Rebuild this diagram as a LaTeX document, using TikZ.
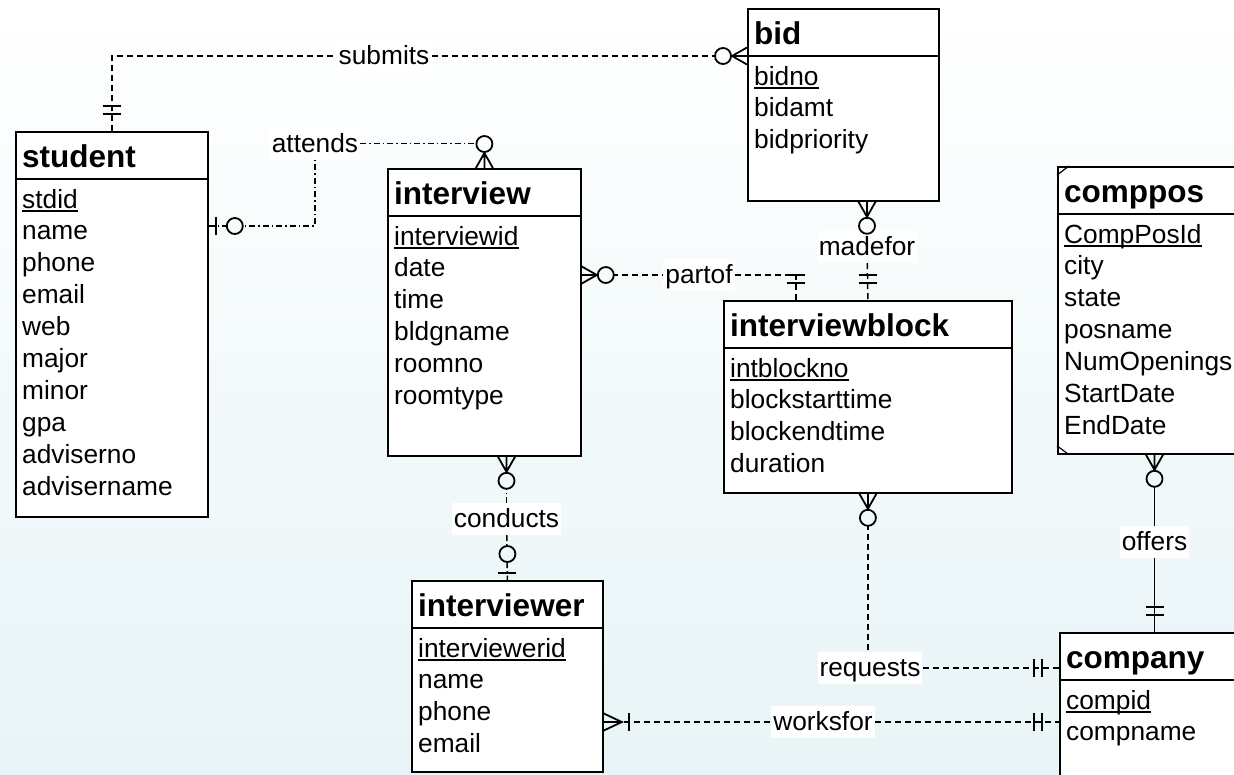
\documentclass[tikz,border=0pt]{standalone}
\usepackage{fontspec}
\setmainfont{Liberation Sans}

\definecolor{bgB}{RGB}{232,244,247}
\def\cfill{white}

\tikzset{
  entbox/.style={draw, line width=1.8pt, fill=white, anchor=north west, inner sep=0pt},
  entsep/.style={line width=1.8pt},
  enttitle/.style={anchor=base west, inner sep=0pt, font=\fontsize{31.5}{31.5}\selectfont\bfseries},
  entattr/.style={anchor=base west, inner sep=0pt, font=\fontsize{26.3}{26.3}\selectfont},
  pkline/.style={line width=1.2pt},
  rlabel/.style={fill=white, inner xsep=2pt, inner ysep=2.5pt, text height=22pt, text depth=5pt,
                 font=\fontsize{26.3}{26.3}\selectfont},
  conn/.style={line width=1.5pt, dash pattern=on 6pt off 4pt},
  conndd/.style={line width=1.5pt, dash pattern=on 6pt off 3pt on 1.5pt off 3pt},
  connsolid/.style={line width=1.5pt},
  cardmark/.style={line width=1.8pt, solid},
  circfill/.code={\def\cfill{#1}},
  % cardinality symbols: origin on the entity border, local +x points away from the entity
  pics/zeromany/.style={code={
    \draw[cardmark] (0,-8.5) -- (15,0) -- (0,8.5) (0,0) -- (15,0);
    \draw[cardmark, fill=\cfill] (24,0) circle[radius=8pt];
  }},
  pics/zeroone/.style={code={
    \draw[cardmark] (7,-9) -- (7,9);
    \draw[cardmark, fill=\cfill] (26,0) circle[radius=8pt];
  }},
  pics/onemany/.style={code={
    \draw[cardmark] (0,-8.5) -- (18,0) -- (0,8.5) (0,0) -- (18,0);
    \draw[cardmark] (25,-9) -- (25,9);
  }},
  pics/exactlyone/.style={code={
    \draw[cardmark] (17,-9) -- (17,9) (25,-9) -- (25,9);
  }},
}

% entity: name, left, top, width, height, title, attributes (first one is the key)
\newcommand\erentity[7]{%
  \node[entbox, minimum width=#4pt, minimum height=#5pt] (#1) at (#2,#3) {};
  \draw[entsep] (#2,#3+48) -- (#2+#4,#3+48);
  \node[enttitle] (#1-title) at (#2+7,#3+36) {#6};
  \foreach \fld [count=\i from 0] in {#7}{%
    \node[entattr] (#1-f\i) at (#2+7,#3+77+31.9*\i) {\fld};
  }
  \draw[pkline] ([yshift=-3pt]#1-f0.base west) -- ([yshift=-3pt]#1-f0.base east);
}

\begin{document}
\begin{tikzpicture}[x=1pt,y=-1pt]
  \useasboundingbox (0,0) rectangle (1234,774);
  \clip (0,0) rectangle (1234,774);
  \shade[top color=white, bottom color=bgB] (0,0) rectangle (1234,774);

  % entities
  \erentity{student}{15}{131}{192}{385}{student}{stdid,name,phone,email,web,major,minor,gpa,adviserno,advisername}
  \erentity{interview}{387}{168}{193}{287}{interview}{interviewid,date,time,bldgname,roomno,roomtype}
  \erentity{bid}{747}{8}{191}{192}{bid}{bidno,bidamt,bidpriority}
  \erentity{comppos}{1057}{166}{230}{287}{comppos}{CompPosId,city,state,posname,NumOpenings,StartDate,EndDate}
  \erentity{interviewblock}{723}{300}{288}{192}{interviewblock}{intblockno,blockstarttime,blockendtime,duration}
  \erentity{interviewer}{411}{580}{191}{191}{interviewer}{interviewerid,name,phone,email}
  \erentity{company}{1059}{632}{230}{180}{company}{compid,compname}

  % corner marks of comppos
  \draw[pkline] ([yshift=-9pt]comppos.north west) -- ([xshift=12pt]comppos.north west);
  \draw[pkline] ([yshift=9pt]comppos.south west) -- ([xshift=12pt]comppos.south west);

  % relationship labels
  \node[rlabel] (submits)  at (384,56)    {submits};
  \node[rlabel] (attends)  at (315,143.5) {attends};
  \node[rlabel] (partof)   at (699,275)   {partof};
  \node[rlabel] (madefor)  at (867,247)   {madefor};
  \node[rlabel] (conducts) at (506.5,519) {conducts};
  \node[rlabel] (requests) at (870,668)   {requests};
  \node[rlabel] (worksfor) at (823,722)   {worksfor};
  \node[rlabel] (offers)   at (1154.5,542){offers};

  % connectors
  \draw[conn] (student.north) |- (submits);
  \draw[conn] (submits) -- (bid.west |- submits);

  \draw[conndd] (student.north east) ++(0,95) -| (attends);
  \draw[conndd] (attends) -| (interview.north);

  \draw[conn] (interview.east |- partof) -- (partof);
  \draw[conn] (partof) -| ([xshift=-72pt]interviewblock.north);

  \draw[conn] (bid.south -| madefor) -- (madefor);
  \draw[conn] (madefor) -- (interviewblock.north);

  \draw[conndd] (interview.south -| conducts) -- (conducts);
  \draw[conndd] (conducts) -- (interviewer.north);

  \draw[conn] (interviewblock.south) -- (interviewblock.south |- requests.north);
  \draw[conn] (requests) -- (company.west |- requests);

  \draw[conn] (interviewer.east |- worksfor) -- (worksfor);
  \draw[conn] (worksfor) -- (company.west |- worksfor);

  \draw[connsolid] (comppos.south -| offers) -- (offers);
  \draw[connsolid] (offers) -- (company.north -| offers);

  % cardinality marks
  \pic[rotate=90] at (student.north) {exactlyone};
  \pic[rotate=180, circfill=bgB!7!white] at (bid.west |- submits) {zeromany};
  \pic[circfill=bgB!29!white] at ([yshift=-95pt]student.north east) {zeroone};
  \pic[rotate=90, circfill=bgB!18!white] at (interview.north) {zeromany};
  \pic[circfill=bgB!36!white] at (interview.east |- partof) {zeromany};
  \pic[rotate=90] at ([xshift=-72pt]interviewblock.north) {exactlyone};
  \pic[rotate=-90, circfill=bgB!29!white] at (bid.south -| madefor) {zeromany};
  \pic[rotate=90] at (interviewblock.north) {exactlyone};
  \pic[rotate=-90, circfill=bgB!62!white] at (interview.south -| conducts) {zeromany};
  \pic[rotate=90, circfill=bgB!71!white] at (interviewer.north) {zeroone};
  \pic[rotate=-90, circfill=bgB!67!white] at (interviewblock.south) {zeromany};
  \pic[rotate=180] at (company.west |- requests) {exactlyone};
  \pic at (interviewer.east |- worksfor) {onemany};
  \pic[rotate=180] at (company.west |- worksfor) {exactlyone};
  \pic[rotate=-90, circfill=bgB!62!white] at (comppos.south -| offers) {zeromany};
  \pic[rotate=90] at (company.north -| offers) {exactlyone};
\end{tikzpicture}
\end{document}
